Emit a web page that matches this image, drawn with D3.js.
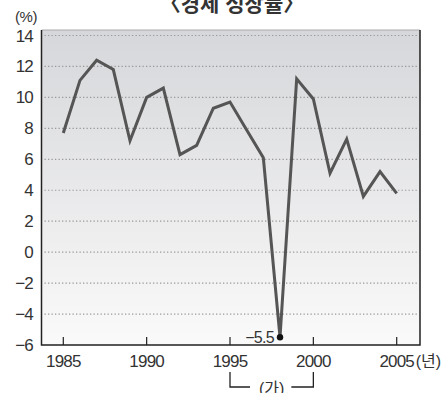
<!DOCTYPE html>
<html lang="ko">
<head>
<meta charset="UTF-8">
<title>경제 성장률</title>
<script src="https://d3js.org/d3.v7.min.js"></script>
<style>
  body { margin: 0; background: #fff; }
  svg text { font-family: "Liberation Sans", "Noto Sans CJK KR", sans-serif; fill: #333; }
</style>
</head>
<body>
<svg width="443" height="393"></svg>
<script>
// data
var years = [1985, 1986, 1987, 1988, 1989, 1990, 1991, 1992, 1993, 1994, 1995,
             1996, 1997, 1998, 1999, 2000, 2001, 2002, 2003, 2004, 2005];
var growth = [7.7, 11.1, 12.4, 11.8, 7.2, 10.0, 10.6, 6.3, 6.9, 9.3, 9.7,
              7.9, 6.1, -5.5, 11.2, 9.9, 5.1, 7.3, 3.6, 5.2, 3.8];
var yTicks = [14, 12, 10, 8, 6, 4, 2, 0, -2, -4, -6];
var xTicks = [1985, 1990, 1995, 2000, 2005];
var bracket = [1995, 2000];

var svg = d3.select("svg");
var plotLeft = 41.5, plotRight = 420, plotTop = 30, plotBottom = 345;

var x = d3.scaleLinear().domain([1985, 2005]).range([63.3, 396.7]);
var y = d3.scaleLinear().domain([-6, 14]).range([345, 35.5]);

// background gradient
var grad = svg.append("defs").append("linearGradient")
    .attr("id", "bg").attr("x1", 0).attr("y1", 0).attr("x2", 0).attr("y2", 1);
grad.append("stop").attr("offset", "0%").attr("stop-color", "#d6d7da");
grad.append("stop").attr("offset", "100%").attr("stop-color", "#fafafa");

svg.append("rect")
    .attr("x", plotLeft).attr("y", plotTop)
    .attr("width", plotRight - plotLeft).attr("height", plotBottom - plotTop)
    .attr("fill", "url(#bg)");

// dotted grid lines
svg.append("g").selectAll("line")
    .data(yTicks.filter(d => d > -6))
    .enter().append("line")
    .attr("x1", plotLeft + 3).attr("x2", plotRight - 2)
    .attr("y1", d => y(d)).attr("y2", d => y(d))
    .attr("stroke", "#999")
    .attr("stroke-width", 1.2)
    .attr("stroke-dasharray", "1.3,2.2");

// frame
svg.append("line").attr("x1", plotLeft).attr("x2", plotRight).attr("y1", plotTop).attr("y2", plotTop)
    .attr("stroke", "#aaa").attr("stroke-width", 1);
svg.append("path")
    .attr("d", "M" + plotLeft + "," + plotTop + " L" + plotLeft + "," + plotBottom +
               " L" + plotRight + "," + plotBottom + " L" + plotRight + "," + plotTop)
    .attr("fill", "none").attr("stroke", "#222").attr("stroke-width", 1.5);

// x axis ticks (pointing up into the plot)
svg.append("g").selectAll("line")
    .data(xTicks)
    .enter().append("line")
    .attr("x1", d => x(d)).attr("x2", d => x(d))
    .attr("y1", plotBottom).attr("y2", plotBottom - 8)
    .attr("stroke", "#222").attr("stroke-width", 1.2);

// x labels
svg.append("g").selectAll("text")
    .data(xTicks)
    .enter().append("text")
    .attr("x", d => x(d)).attr("y", 367)
    .attr("text-anchor", "middle")
    .attr("font-size", "17px")
    .attr("letter-spacing", "-0.8px")
    .text(d => d);

svg.append("text")
    .attr("x", x(2005) + 19).attr("y", 367)
    .attr("font-size", "16px")
    .text("(년)");

// y labels
svg.append("g").selectAll("text")
    .data(yTicks)
    .enter().append("text")
    .attr("x", 33).attr("y", d => y(d) + 6)
    .attr("text-anchor", "end")
    .attr("font-size", "17px")
    .attr("letter-spacing", "-0.8px")
    .text(d => d < 0 ? "\u2212" + Math.abs(d) : d);

svg.append("text")
    .attr("x", 26).attr("y", 22)
    .attr("text-anchor", "middle")
    .attr("font-size", "15px")
    .attr("letter-spacing", "-0.5px")
    .text("(%)");

// title (cut off at top, as in the original)
svg.append("text")
    .attr("x", 232).attr("y", 11)
    .attr("text-anchor", "middle")
    .attr("font-size", "21px")
    .attr("font-weight", "bold")
    .style("font-family", "'Noto Sans CJK KR', sans-serif")
    .text("〈경제 성장률〉");

// line
var line = d3.line()
    .x((d, i) => x(years[i]))
    .y(d => y(d));

svg.append("path")
    .datum(growth)
    .attr("d", line)
    .attr("fill", "none")
    .attr("stroke", "#555")
    .attr("stroke-width", 3)
    .attr("stroke-linejoin", "miter");

// minimum marker
var iMin = growth.indexOf(d3.min(growth));
svg.append("circle")
    .attr("cx", x(years[iMin])).attr("cy", y(growth[iMin]))
    .attr("r", 3.2).attr("fill", "#111");
svg.append("text")
    .attr("x", x(years[iMin]) - 6).attr("y", y(growth[iMin]) + 6)
    .attr("text-anchor", "end")
    .attr("font-size", "16px")
    .attr("letter-spacing", "-0.7px")
    .text("\u2212" + Math.abs(growth[iMin]));

// bracket (가)
var bx0 = x(bracket[0]), bx1 = x(bracket[1]);
svg.append("path")
    .attr("d", "M" + bx0 + ",372 L" + bx0 + ",387 L" + (bx0 + 20) + ",387")
    .attr("fill", "none").attr("stroke", "#222").attr("stroke-width", 1.3);
svg.append("path")
    .attr("d", "M" + (bx1 - 22) + ",387 L" + bx1 + ",387 L" + bx1 + ",372")
    .attr("fill", "none").attr("stroke", "#222").attr("stroke-width", 1.3);
svg.append("text")
    .attr("x", (bx0 + bx1) / 2).attr("y", 394)
    .attr("text-anchor", "middle")
    .attr("font-size", "16px")
    .text("(가)");
</script>
</body>
</html>
